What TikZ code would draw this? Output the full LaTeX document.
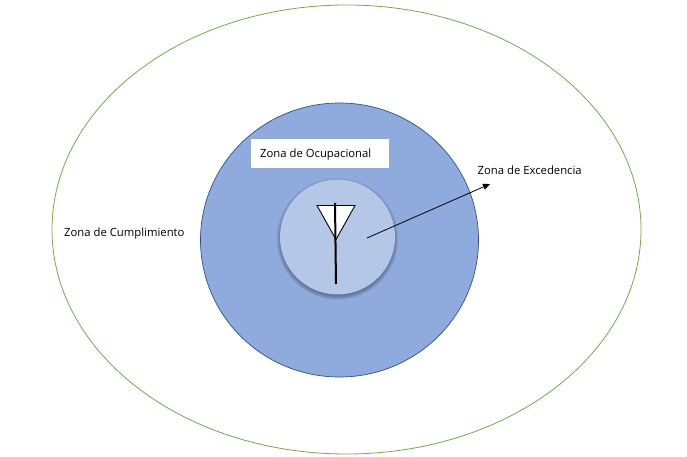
\documentclass[tikz,border=0pt]{standalone}
\usepackage{fontspec}
\setmainfont{Open Sans}
\usepackage{tikz}
\usetikzlibrary{arrows.meta}
\definecolor{zonagreen}{HTML}{70AD47}
\definecolor{zonablue}{HTML}{8FAADC}
\definecolor{zonaline}{HTML}{2F528F}
\definecolor{zonalight}{HTML}{B4C7E7}
\tikzset{
  zonalabel/.style={font=\fontsize{11.3}{13}\selectfont,inner sep=0pt,anchor=west,text=black},
  antenna/.style={black,line width=2pt},
}

\begin{document}
\begin{tikzpicture}[x=1pt,y=-1pt]
    \useasboundingbox (0,0) rectangle (687,457);
    \fill[white] (0,0) rectangle (687,457);

    \draw[zonagreen,line width=0.8pt] (346.5,229.5) ellipse [x radius=294.5,y radius=224.5]; % outer zone
    \draw[zonaline,fill=zonablue,line width=0.7pt] (339.5,240) ellipse [x radius=139,y radius=137];

    % soft shadow of the inner circle
    \foreach \r in {61,60.5,...,56}{
        \fill[black,opacity=0.035] (337.5,239) circle (\r);
    }
    \fill[zonalight] (337.5,237) circle (57.5);

    \fill[white] (251,139) rectangle (389,168);
    \node[zonalabel] (ocupacional) at (260,154.5) {Zona de Ocupacional};
    \node[zonalabel] (excedencia) at (477.5,170) {Zona de Excedencia};
    \node[zonalabel] (cumplimiento) at (64,234) {Zona de Cumplimiento};

    % antenna
    \coordinate (triA) at (317,205.5);
    \coordinate (triB) at (355,205.5);
    \coordinate (triC) at (336,239.5);
    \coordinate (mastTop) at (335,203);
    \coordinate (mastEnd) at (336,284);
    \draw[black,fill=white,line width=0.9pt] (triA) -- (triB) -- (triC) -- cycle;
    \draw[antenna] (mastTop) -- (mastEnd);

    % arrow out of the zone
    \coordinate (arrowStart) at (367,238);
    \coordinate (arrowEnd) at (490,184);
    \draw[-{Triangle[length=7pt,width=6pt]},black,line width=0.8pt] (arrowStart) -- (arrowEnd);
\end{tikzpicture}
\end{document}
